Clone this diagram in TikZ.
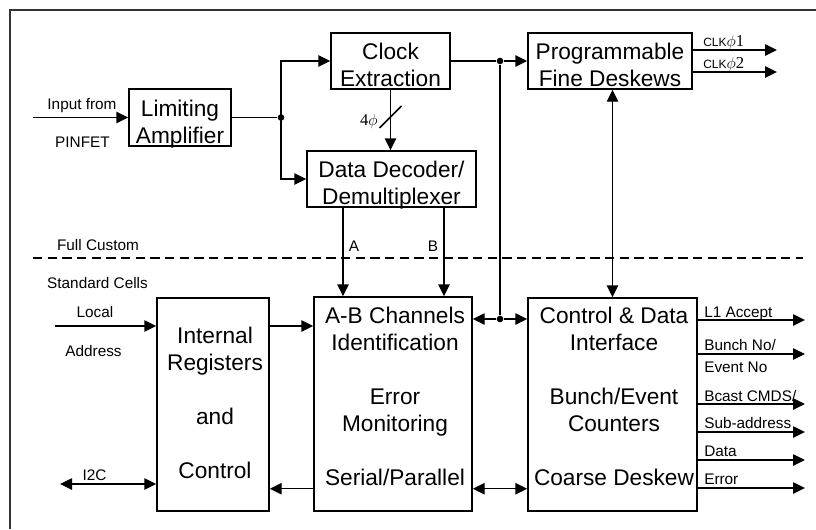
\documentclass[tikz,border=0pt]{standalone}
\usepackage{fontspec}
\setmainfont{Liberation Sans}
\newfontfamily\seriffont{Liberation Serif}
\usetikzlibrary{arrows.meta}

\tikzset{
  blk/.style={draw,line width=1.1pt,inner sep=0pt},
  blktext/.style={font=\fontsize{17}{20.25}\selectfont,align=center,anchor=base,inner sep=0pt},
  lbl/.style={font=\fontsize{11.5}{13}\selectfont,anchor=base,inner sep=0pt},
  wire/.style={line width=1.1pt},
  sig/.style={wire,-{Triangle[length=9pt,width=8.5pt]}},
  bisig/.style={wire,{Triangle[length=9pt,width=8.5pt]}-{Triangle[length=9pt,width=8.5pt]}},
  jdot/.style={circle,fill,inner sep=0pt,minimum size=5pt},
}

\begin{document}
\begin{tikzpicture}[x=0.75pt,y=-0.75pt]
  \useasboundingbox (0,0) rectangle (816,529);
  \draw[line width=1pt,black!80] (816,10) -- (10,10) -- (10,529);

  \node[blk,minimum width=76.5pt,minimum height=42.75pt] (lim) at (180,117.5) {};
  \node[blk,minimum width=89.25pt,minimum height=42pt] (clk) at (390.5,61) {};
  \node[blk,minimum width=126.75pt,minimum height=42pt] (dec) at (391.5,179) {};
  \node[blk,minimum width=123pt,minimum height=42pt] (prog) at (610,61) {};
  \node[blk,minimum width=84pt,minimum height=159.75pt] (ir) at (213,404.5) {};
  \node[blk,minimum width=118.5pt,minimum height=160.5pt] (ab) at (393,404) {};
  \node[blk,minimum width=126.75pt,minimum height=159.75pt] (ctl) at (612.5,404.5) {};

  \node[blktext] (limtxt) at (180,143) {Limiting\\Amplifier};
  \node[blktext] (clktxt) at (390.5,86) {Clock\\Extraction};
  \node[blktext] (dectxt) at (391.5,204) {Data Decoder/\\Demultiplexer};
  \node[blktext] (progtxt) at (610,86) {Programmable\\Fine Deskews};
  \node[blktext] (irtxt) at (215,478) {Internal\\Registers\\[20pt]and\\[20pt]Control};
  \node[blktext] (abtxt) at (395,485) {A-B Channels\\Identification\\[20pt]Error\\Monitoring\\[20pt]Serial/Parallel};
  \node[blktext] (ctltxt) at (614,485) {Control \& Data\\Interface\\[20pt]Bunch/Event\\Counters\\[20pt]Coarse Deskew};

  \draw[line width=0.9pt,dash pattern=on 7pt off 4pt] (33,258) -- (803,258);
  \node[lbl] (full) at (98,250) {Full Custom};
  \node[lbl] (std) at (97.5,288) {Standard Cells};

  \coordinate (inp) at (33,117.5);
  \draw[sig] (inp) -- (lim.west);
  \node[lbl] (infrom) at (82,109) {Input from};
  \node[lbl] (pinfet) at (82.5,147) {PINFET};
  \node[jdot] (j1) at (281,117.5) {};
  \draw[wire] (lim.east) -- (j1);
  \draw[sig] (j1.center) |- (clk.west);
  \draw[sig] (j1.center) |- (dec.west);

  \draw[sig] (clk.south) -- (clk.south |- dec.north);
  \coordinate (slash) at (390.5,117);
  \draw[wire] ([shift={(-11,11)}]slash) -- ([shift={(11,-11)}]slash);
  \node[lbl,anchor=base east] (fourphi) at (378,125) {\seriffont\fontsize{12.5}{14}\selectfont 4$\phi$};

  \node[jdot] (j2) at (500,61) {};
  \node[jdot] (j3) at (500,319) {};
  \draw[wire] (clk.east) -- (j2);
  \draw[sig] (j2) -- (prog.west);
  \draw[wire] (j2) -- (j3);
  \draw[sig] (j3) -- (ab.east |- j3);
  \draw[sig] (j3) -- (ctl.west |- j3);
  \draw[bisig] (ctl.north |- prog.south) -- (ctl.north);

  \foreach \y [count=\i] in {50,72} {
    \coordinate (clkout\i) at (777,\y);
    \draw[sig] (prog.east |- clkout\i) -- (clkout\i);
  }
  \node[lbl,anchor=base west] (clk1lbl) at (703,46) {{\fontsize{9}{10}\selectfont CLK}{\seriffont\fontsize{12.5}{14}\selectfont$\phi$1}};
  \node[lbl,anchor=base west] (clk2lbl) at (703,68) {{\fontsize{9}{10}\selectfont CLK}{\seriffont\fontsize{12.5}{14}\selectfont$\phi$2}};

  \coordinate (a1) at ([shift={(-48.5,0)}]dec.south);
  \coordinate (b1) at ([shift={(52.5,0)}]dec.south);
  \draw[sig] (a1) -- (a1 |- ab.north);
  \draw[sig] (b1) -- (b1 |- ab.north);
  \node[lbl] (alb) at (354,251) {A};
  \node[lbl] (blb) at (433,251) {B};

  \coordinate (la) at (55,326);
  \draw[sig] (la) -- (ir.west |- la);
  \node[lbl] (local) at (95,317) {Local};
  \node[lbl] (addr) at (93.5,356) {Address};
  \draw[sig] (ir.east |- la) -- (ab.west |- la);
  \coordinate (i2c) at (60,484);
  \draw[bisig] (i2c) -- (ir.west |- i2c);
  \node[lbl] (i2clbl) at (94.5,480) {I2C};
  \coordinate (bt) at ([shift={(0,-23)}]ab.south);
  \draw[sig] (ab.west |- bt) -- (ir.east |- bt);
  \draw[bisig] (ab.east |- bt) -- (ctl.west |- bt);

  \foreach \y [count=\i] in {320,354,404,432,460,488} {
    \coordinate (out\i) at (805,\y);
    \draw[sig] (ctl.east |- out\i) -- (out\i);
  }
  \node[lbl,anchor=base west] (l1lbl) at (704,317) {L1 Accept};
  \node[lbl,anchor=base west] (bunchlbl) at (704,350) {Bunch No/};
  \node[lbl,anchor=base west] (eventlbl) at (704,372.5) {Event No};
  \node[lbl,anchor=base west] (bcastlbl) at (704,401) {Bcast CMDS/};
  \node[lbl,anchor=base west] (sublbl) at (704,428) {Sub-address};
  \node[lbl,anchor=base west] (datalbl) at (704,456) {Data};
  \node[lbl,anchor=base west] (errlbl) at (704,484) {Error};
\end{tikzpicture}
\end{document}
